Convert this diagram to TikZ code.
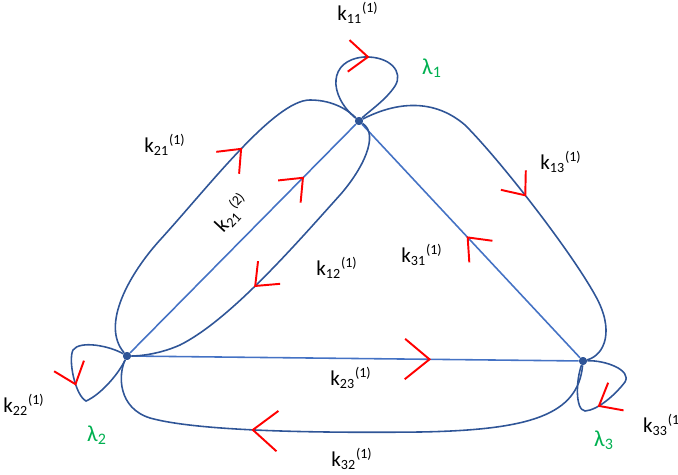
\documentclass[tikz,border=0pt]{standalone}
\usepackage{fontspec}
\setmainfont{Carlito}
\usetikzlibrary{arrows.meta, decorations.markings}

\definecolor{curveblue}{HTML}{2F5597}
\definecolor{lineblue}{HTML}{4472C4}
\definecolor{eiggreen}{HTML}{00B050}

\tikzset{
    chev/.tip={Straight Barb[length=11pt, width=18pt, line width=1.1pt, color=red]},
    chevbig/.tip={Straight Barb[length=14pt, width=23pt, line width=1.1pt, color=red]}
}

\newcommand{\kk}[2]{k\textsubscript{#1}\textsuperscript{(#2)}}

\begin{document}
\begin{tikzpicture}[
        x=0.02cm, y=-0.02cm,
        vertex/.style={circle, fill=curveblue, inner sep=0pt, minimum size=8pt*0.567},
        link/.style={draw=lineblue, line width=0.9pt},
        flow/.style={draw=curveblue, line width=0.9pt},
        flowmark/.style={postaction={decorate, decoration={markings, mark=at position #1 with {\arrow{chev}}}}},
        bigmark/.style={postaction={decorate, decoration={markings, mark=at position #1 with {\arrow{chevbig}}}}},
        lbl/.style={font=\fontsize{12}{14}\selectfont, inner sep=1pt},
        eig/.style={font=\fontsize{13}{15}\selectfont, text=eiggreen, inner sep=1pt}
    ]
        \useasboundingbox (0,0) rectangle (678,475);
        % Vertices
        \node[vertex] (v1) at (359,121) {};
        \node[vertex] (v2) at (127,356) {};
        \node[vertex] (v3) at (583,361) {};
        % Straight transitions
        \draw[link, flowmark=0.77] (v2) -- (v1);
        \draw[link, flowmark=0.52] (v3) -- (v1);
        \draw[link, bigmark=0.67] (v2) -- (v3);
        % Curved transitions
        \draw[flow, flowmark=0.65] (v2) .. controls (100,325) and (130,273) .. (160,240)
            .. controls (210,185) and (275,100) .. (310,100)
            .. controls (335,100) and (350,112) .. (v1);
        \draw[flow, flowmark=0.59] (v1) .. controls (380,135) and (362,170) .. (340,195)
            .. controls (295,245) and (230,320) .. (180,345)
            .. controls (160,354) and (140,356) .. (v2);
        \draw[flow, flowmark=0.51] (v1) .. controls (390,105) and (430,95) .. (465,125)
            .. controls (500,160) and (570,250) .. (595,295)
            .. controls (615,330) and (605,355) .. (v3);
        \draw[flow, bigmark=0.675] (v3) .. controls (578,415) and (530,430) .. (420,432)
            .. controls (330,433) and (200,432) .. (150,418)
            .. controls (118,408) and (118,375) .. (v2);
        % Self loops
        \draw[flow, flowmark=0.49] (v1) .. controls (328,95) and (328,60) .. (364,57)
            .. controls (390,56) and (404,72) .. (395,86)
            .. controls (386,100) and (368,112) .. (v1);
        \draw[flow, flowmark=0.54] (v2) .. controls (110,346) and (80,340) .. (73,350)
            .. controls (68,360) and (75,395) .. (86,401)
            .. controls (100,395) and (118,375) .. (v2);
        \draw[flow, flowmark=0.58] (v3) .. controls (605,360) and (632,370) .. (625,382)
            .. controls (615,395) and (598,410) .. (585,411)
            .. controls (575,410) and (576,380) .. (v3);
        % Redraw vertices on top
        \node[vertex] at (v1) {};
        \node[vertex] at (v2) {};
        \node[vertex] at (v3) {};
        % Labels
        \node[lbl] (l11) at (358,13) {\kk{11}{1}};
        \node[lbl] (l21) at (165,145) {\kk{21}{1}};
        \node[lbl, rotate=47] (l21b) at (232,213) {\kk{21}{2}};
        \node[lbl] (l12) at (337,268) {\kk{12}{1}};
        \node[lbl] (l31) at (422,255) {\kk{31}{1}};
        \node[lbl] (l13) at (561,162) {\kk{13}{1}};
        \node[lbl] (l22) at (24,405) {\kk{22}{1}};
        \node[lbl] (l23) at (351,378) {\kk{23}{1}};
        \node[lbl] (l32) at (352,459) {\kk{32}{1}};
        \node[lbl, anchor=west] (l33) at (641,425) {\kk{33}{1}};
        \node[eig] (e1) at (432,68) {λ\textsubscript{1}};
        \node[eig] (e2) at (97,435) {λ\textsubscript{2}};
        \node[eig] (e3) at (604,440) {λ\textsubscript{3}};
    \end{tikzpicture}
\end{document}
